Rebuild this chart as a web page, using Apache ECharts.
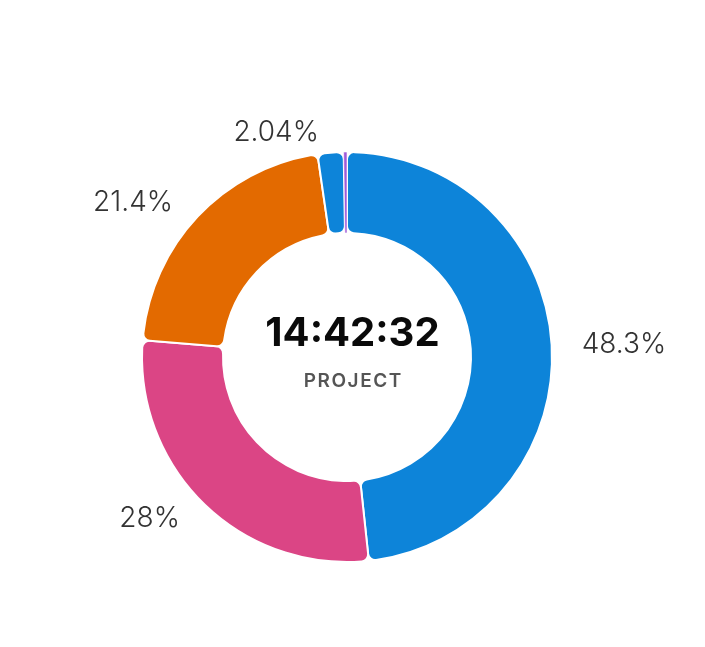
<!DOCTYPE html>
<html>
<head>
<meta charset="utf-8">
<script src="https://cdn.jsdelivr.net/npm/echarts@6/dist/echarts.min.js"></script>
<style>
  html, body { margin: 0; padding: 0; background: #fff; }
  #box { width: 705px; height: 647px; }
</style>
</head>
<body>
<div id="box"></div>
<script>
// 数据
var names = ['A', 'B', 'C', 'D', 'E'];
var values = [48.3, 28, 21.4, 2.04, 0.26];
var labels = ['48.3%', '28%', '21.4%', '2.04%', ''];
var colors = ['#0d84d9', '#db4585', '#e36a00', '#0d84d9', '#a05ad8'];
var centerTitle = '14:42:32';
var centerSub = 'PROJECT';

var myChart = echarts.init(document.getElementById('box'));

var data = values.map(function (v, i) {
    var tiny = labels[i] === '';
    return {
        name: names[i],
        value: v,
        // 太小的扇区边框细一点，不然看不见
        itemStyle: { color: colors[i], borderWidth: tiny ? 0.6 : 2, borderRadius: tiny ? 0 : 7 },
        label: { show: !tiny, formatter: labels[i] }
    };
});

var option = {
    backgroundColor: '#ffffff',
    animation: false,
    graphic: [{
        type: 'text',
        left: 'center',
        top: 314,
        style: {
            text: centerTitle,
            font: 'bold 40px Inter, "Noto Sans", sans-serif',
            fill: '#0a0a0a'
        }
    }, {
        type: 'text',
        left: 'center',
        top: 372,
        style: {
            // 字间距用细空格
            text: centerSub.split('').join('\u200A'),
            font: '600 19px Inter, "Noto Sans", sans-serif',
            fill: '#555'
        }
    }],
    series: [{
        type: 'pie',
        center: [347, 357],
        radius: [124, 205],
        startAngle: 90,
        clockwise: true,
        itemStyle: {
            borderColor: '#fff',
            borderWidth: 2,
            borderRadius: 7
        },
        label: {
            position: 'outside',
            fontSize: 28,
            fontWeight: 300,
            fontFamily: 'Inter, "Noto Sans", sans-serif',
            color: '#333'
        },
        labelLine: { show: false, length: 20, length2: 5 },
        data: data
    }]
};

myChart.setOption(option);
</script>
</body>
</html>
